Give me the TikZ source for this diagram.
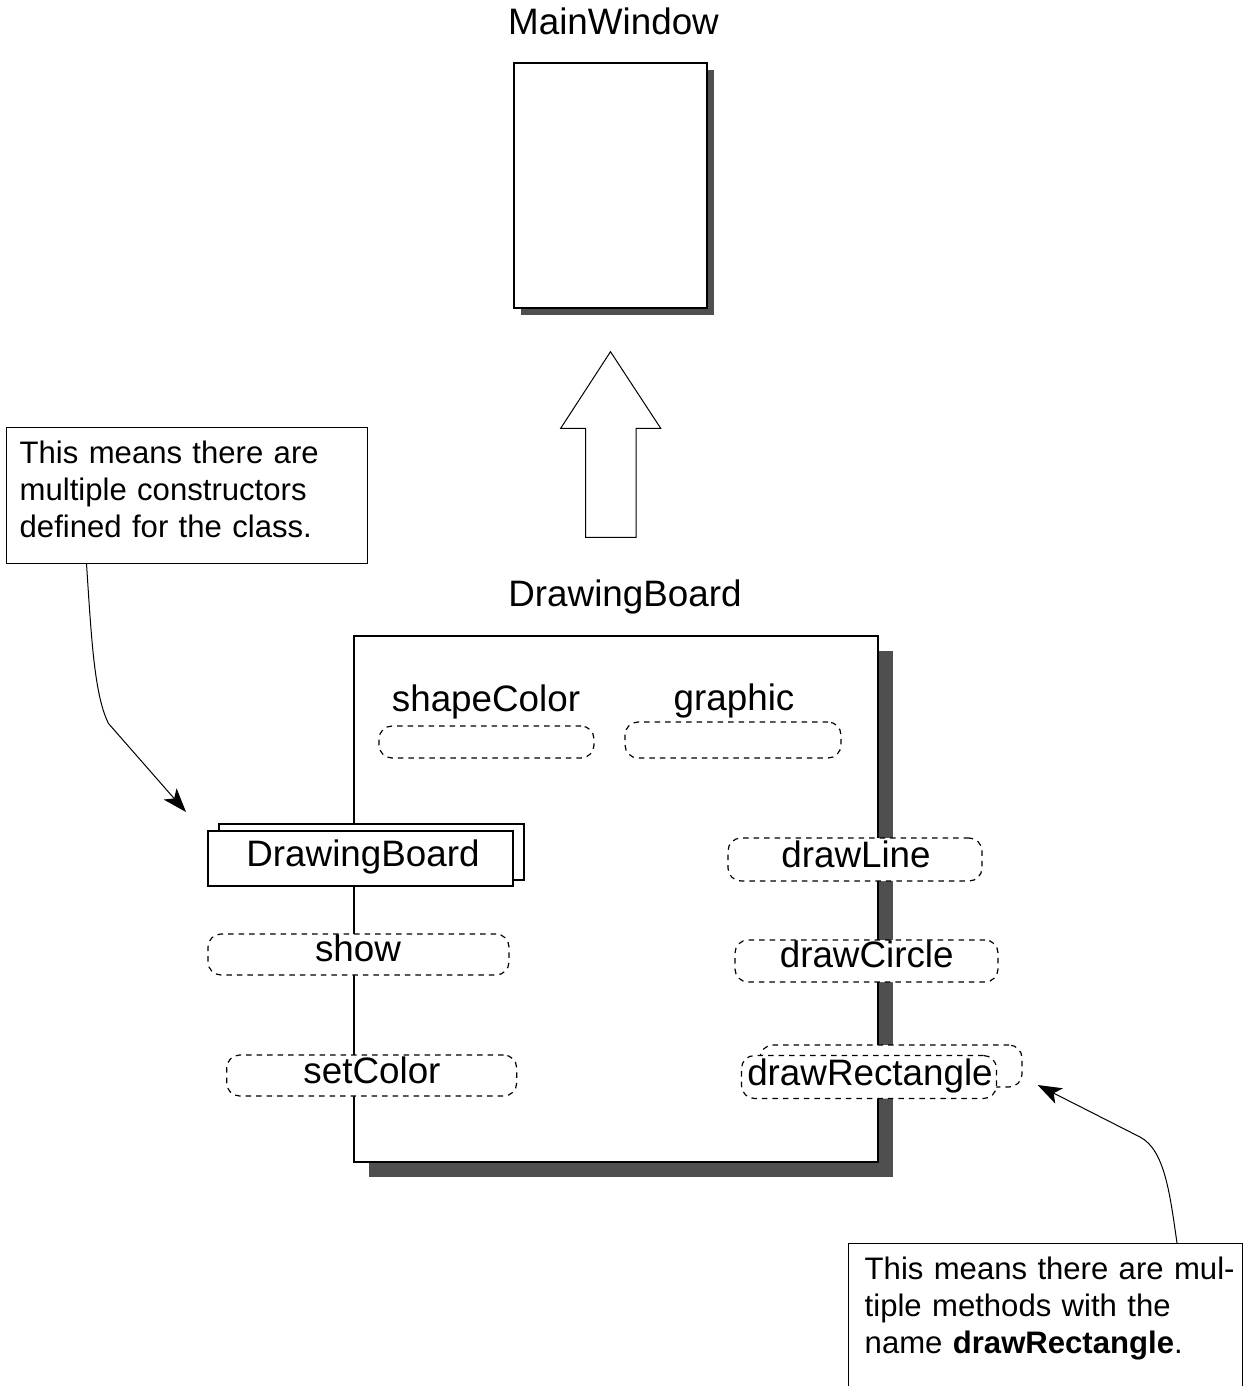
\documentclass[tikz,border=0pt]{standalone}
\usepackage{fontspec}
\setmainfont{Liberation Sans}
\usetikzlibrary{arrows.meta,calc}
\definecolor{shadowgray}{HTML}{4F4F4F}
\tikzset{
  lbl/.style={font=\fontsize{36.8}{44}\selectfont, inner sep=0pt, anchor=base},
  classbox/.style={draw, line width=2pt, fill=white, inner sep=0pt},
  shadowbox/.style={fill=shadowgray, inner sep=0pt},
  methodoval/.style={draw, line width=1.2pt, dash pattern=on 5.5pt off 5pt, rounded corners=13pt, fill=white, inner sep=0pt},
  notebox/.style={draw, line width=1pt, fill=white, inner sep=0pt},
  notetext/.style={font=\fontsize{31.1}{37}\selectfont, inner sep=0pt, anchor=base west, align=left, text width=380pt},
  pointer/.style={line width=1pt, -{Stealth[length=24pt,width=17pt,inset=6pt]}},
  hollowarrow/.style={draw, line width=1pt, fill=white, line join=miter},
}
\begin{document}
\begin{tikzpicture}[x=1pt,y=-1pt]
\useasboundingbox (0,0) rectangle (1249,1386);

% MainWindow class
\node[lbl] (mwlabel) at (613.5,35) {MainWindow};
\node[shadowbox, minimum width=193pt, minimum height=245pt] (mwshadow) at (617,192.5) {};
\node[classbox, minimum width=193pt, minimum height=245pt] (mw) at (610.5,185.5) {};

% generalization arrow
\draw[hollowarrow] (610.5,351.7) -- (660.7,428.3) -- (636,428.3) -- (636,537.3)
  -- (585.7,537.3) -- (585.7,428.3) -- (560.7,428.3) -- cycle;

% DrawingBoard class
\node[lbl] (dblabel) at (625,606) {DrawingBoard};
\node[shadowbox, minimum width=524pt, minimum height=526pt] (dbshadow) at (631,914) {};
\node[classbox, minimum width=524pt, minimum height=526pt] (db) at (616,899) {};

% attributes
\node[lbl] (sclabel) at (486,711) {shapeColor};
\node[methodoval, minimum width=215pt, minimum height=32pt] (sc) at (486.5,742) {};
\node[lbl] (grlabel) at (734,710) {graphic};
\node[methodoval, minimum width=216pt, minimum height=36pt] (gr) at (733,740) {};

% constructors (stacked)
\node[classbox, minimum width=305pt, minimum height=56pt] (ctorback) at (371.3,852) {};
\node[classbox, minimum width=305pt, minimum height=55pt] (ctor) at (360,858.5) {};
\node[lbl] at (363,866) {DrawingBoard};

% methods
\node[methodoval, minimum width=301pt, minimum height=41pt] (show) at (358.5,954.5) {};
\node[lbl] at (358,961) {show};
\node[methodoval, minimum width=290pt, minimum height=41pt] (setc) at (371.7,1075.5) {};
\node[lbl] at (372,1083) {setColor};
\node[methodoval, minimum width=254pt, minimum height=43pt] (dline) at (855,859.5) {};
\node[lbl] at (856,867) {drawLine};
\node[methodoval, minimum width=263pt, minimum height=42pt] (dcirc) at (866.5,961) {};
\node[lbl] at (866.7,967) {drawCircle};
\node[methodoval, minimum width=262pt, minimum height=42pt] (drectback) at (891,1066) {};
\node[methodoval, minimum width=255pt, minimum height=43pt] (drect) at (869,1077) {};
\node[lbl] at (870,1085) {drawRectangle};

% note on constructors
\node[notebox, minimum width=361pt, minimum height=136pt] (noteA) at (186.5,495) {};
\node[notetext] (noteAtext) at (19.5,463) {This means there are\\multiple constructors\\defined for the class.};
\coordinate (aStart) at ($(noteA.south west)+(81,0)$);
\coordinate (aTip) at ($(ctor.north west)+(-20.5,-18)$);
\draw[pointer] (aStart) .. controls ($(aStart)+(5,77)$) and ($(aStart)+(8,132)$) .. ($(aStart)+(22,160)$) -- (aTip);

% note on overloaded methods (runs off the bottom edge)
\coordinate (nbLB) at (848,1386);
\coordinate (nbLT) at (848,1243);
\coordinate (nbRT) at (1242,1243);
\coordinate (nbRB) at (1242,1386);
\draw[line width=1pt] (nbLB) -- (nbLT) -- (nbRT) -- (nbRB);
\node[notetext] (noteBtext) at (864.5,1279) {This means there are mul-\\tiple methods with the\\name \textbf{drawRectangle}.};
\coordinate (bStart) at ($(nbLT)+(329,0)$);
\coordinate (bTip) at ($(drect.east)+(40.5,8)$);
\draw[pointer] (bStart) .. controls ($(bStart)+(-7,-48)$) and ($(bStart)+(-12,-93)$) .. ($(bStart)+(-37,-106)$) -- (bTip);
\end{tikzpicture}
\end{document}
